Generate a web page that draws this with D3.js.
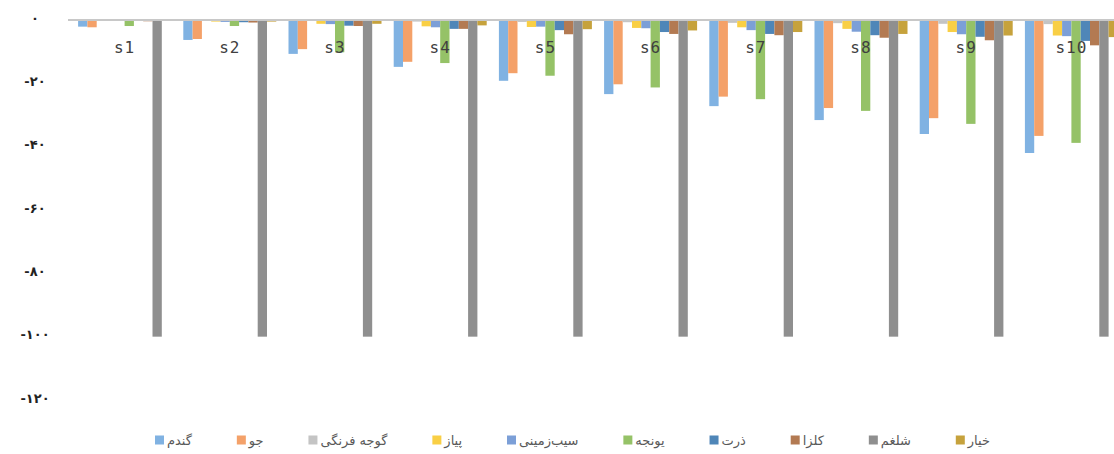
<!DOCTYPE html>
<html><head><meta charset="utf-8">
<script src="https://cdn.jsdelivr.net/npm/d3@7"></script>
<style>
html,body{margin:0;padding:0;background:#fff;}
svg{display:block;}
</style></head>
<body>
<svg id="chart" width="1114" height="454"></svg>
<script>
const categories = ["s1","s2","s3","s4","s5","s6","s7","s8","s9","s10"];
const seriesNames = ["گندم","جو","گوجه فرنگی","پیاز","سیب‌زمینی","یونجه","ذرت","کلزا","شلغم","خیار"];
const seriesColors = ["#80b2e2","#f4a169","#c4c4c4","#f9cf45","#7c9fd7","#95c267","#4f86b8","#b37a52","#8f8f8f","#c6a23c"];
const wheat   = [-2.1,-6.3,-10.7,-14.8,-19.2,-23.4,-27.2,-31.6,-36,-42];
const barley  = [-2.3,-6,-9.2,-13.2,-16.8,-20.3,-24.2,-27.8,-31,-36.6];
const tomato  = [-0.1,-0.2,-0.3,-0.5,-0.6,-0.7,-0.9,-1,-1.2,-1.3];
const onion   = [-0.2,-0.5,-1.2,-2,-2.2,-2.5,-2.3,-2.8,-3.8,-4.9];
const potato  = [-0.3,-0.6,-1.3,-2.3,-2.1,-2.6,-3.2,-3.7,-4.5,-5.1];
const alfalfa = [-1.9,-1.9,-10.2,-13.6,-17.6,-21.3,-25,-28.7,-32.8,-38.8];
const corn    = [-0.3,-0.7,-1.8,-2.8,-3.2,-3.8,-4.4,-4.8,-5.3,-6.6];
const canola  = [-0.4,-0.8,-1.9,-2.8,-4.5,-4.4,-4.8,-5.6,-6.4,-8];
const turnip  = [-100,-100,-100,-100,-100,-100,-100,-100,-100,-100];
const cucumber= [-0.2,-0.5,-1.2,-1.7,-2.9,-3.3,-3.8,-4.4,-4.9,-5.4];
const seriesValues = [wheat,barley,tomato,onion,potato,alfalfa,corn,canola,turnip,cucumber];
const yTicks = [0,-20,-40,-60,-80,-100,-120];
const yTickLabels = ["۰","-۲۰","-۴۰","-۶۰","-۸۰","-۱۰۰","-۱۲۰"];

const svg = d3.select("#chart");
const y = d3.scaleLinear().domain([-120,0]).range([400,20]);
const x = d3.scaleBand().domain(categories).range([72,1124]).paddingInner(0.116).paddingOuter(0.058);
const xs = d3.scaleBand().domain(d3.range(seriesNames.length)).range([0,x.bandwidth()]).padding(0);

// y labels
svg.append("g").selectAll("text").data(yTicks).join("text")
  .attr("x",35).attr("y",d=>y(d)-2).attr("dy","0.35em")
  .attr("text-anchor","middle")
  .attr("font-family","DejaVu Sans").attr("font-size",13).attr("font-weight","bold")
  .attr("letter-spacing","2px")
  .attr("fill","#222")
  .text((d,i)=>yTickLabels[i]);

// bars
const g = svg.append("g");
seriesValues.forEach((vals,si)=>{
  g.append("g").selectAll("rect").data(vals).join("rect")
    .attr("x",(d,i)=>x(categories[i])+xs(si))
    .attr("width",xs.bandwidth())
    .attr("y",d=>y(Math.max(d,0)))
    .attr("height",d=>Math.abs(y(d)-y(0)))
    .attr("fill",seriesColors[si]);
});

// zero line
svg.append("line").attr("x1",68).attr("x2",1114).attr("y1",y(0)).attr("y2",y(0))
  .attr("stroke","#c8c8c8").attr("stroke-width",2);

// category labels
svg.append("g").selectAll("text").data(categories).join("text")
  .attr("x",d=>x(d)+x.bandwidth()/2).attr("y",47).attr("dy","0.35em")
  .attr("text-anchor","middle")
  .attr("font-family","DejaVu Sans Mono").attr("font-size",16).attr("letter-spacing","1px")
  .attr("fill","#404040")
  .text(d=>d);

// legend
const leg = svg.append("g");
const items = seriesNames.map((n,i)=>{
  const it = leg.append("g");
  it.append("rect").attr("width",9).attr("height",9).attr("y",-4.5).attr("fill",seriesColors[i]);
  const t = it.append("text").attr("x",12).attr("dy","0.35em")
    .attr("font-family","DejaVu Sans").attr("font-size",13).attr("fill","#595959").text(n);
  return {it, w: 12 + t.node().getComputedTextLength()};
});
const startX = 155, endX = 990;
const totalW = d3.sum(items,d=>d.w);
const gap = (endX-startX-totalW)/(items.length-1);
let cx = startX;
items.forEach(d=>{ d.it.attr("transform",`translate(${cx},440)`); cx += d.w + gap; });
</script>
</body></html>
